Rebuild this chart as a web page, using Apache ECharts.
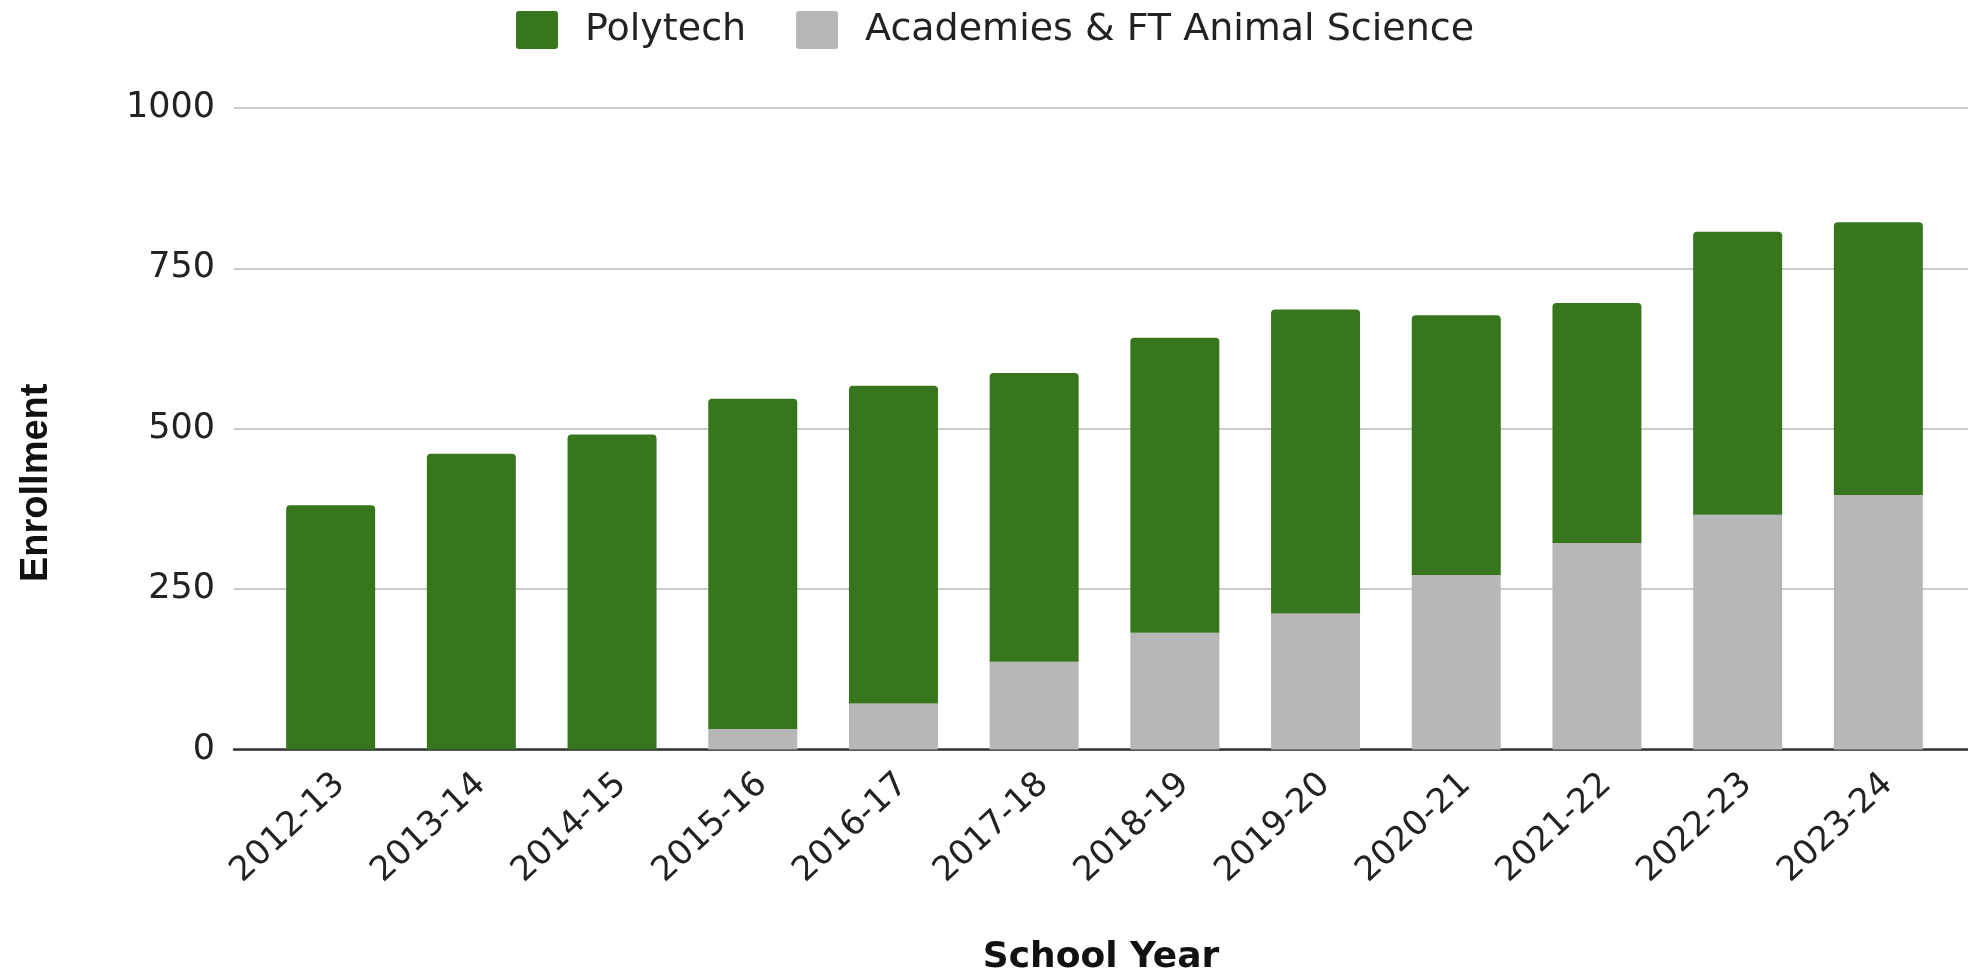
<!DOCTYPE html>
<html>
<head>
<meta charset="utf-8">
<script src="https://cdn.jsdelivr.net/npm/echarts@6/dist/echarts.min.js"></script>
<style>
html,body{margin:0;padding:0;background:#fff;}
#chart{width:1968px;height:975px;}
</style>
</head>
<body>
<div id="chart"></div>
<script>
const categories = ['2012-13','2013-14','2014-15','2015-16','2016-17','2017-18','2018-19','2019-20','2020-21','2021-22','2022-23','2023-24'];
const polytech = [381,461,491,515,495,450,460,474,405,374,441,425];
const academies = [0,0,0,32,72,137,182,212,272,322,366,397];
const yTicks = [0,250,500,750,1000];

const chart = echarts.init(document.getElementById('chart'), null, {renderer:'canvas'});
const TOP = 108, BOTTOM = 225.4;
const tickFont = 'DejaVu Sans';
const gridBase = {top: TOP, bottom: BOTTOM, containLabel: false, outerBoundsMode: 'none'};
const option = {
  backgroundColor: '#ffffff',
  animation: false,
  legend: {
    data: ['Polytech', 'Academies & FT Animal Science'],
    left: 511, top: 6,
    itemWidth: 42, itemHeight: 38, itemGap: 50,
    icon: 'path://M3,0 H39 Q42,0 42,3 V35 Q42,38 39,38 H3 Q0,38 0,35 V3 Q0,0 3,0 Z',
    textStyle: {fontFamily: tickFont, fontSize: 38, color: '#222', padding: [0,0,0,22]}
  },
  grid: [
    Object.assign({left: 234, right: 0}, gridBase),
    Object.assign({left: 260.3, right: 19.3}, gridBase),
    Object.assign({left: 269.8, right: 9.8}, gridBase)
  ],
  xAxis: [
    {type:'category', gridIndex:0, data: categories,
     axisLine:{show:true, lineStyle:{color:'#333', width:2.5}},
     axisTick:{show:false}, axisLabel:{show:false}, splitLine:{show:false},
     name:'School Year', nameLocation:'middle', nameGap:190,
     nameTextStyle:{fontFamily:tickFont, fontWeight:'bold', fontSize:36, color:'#111'}},
    {type:'category', gridIndex:1, data: categories,
     axisLine:{show:false}, axisTick:{show:false}, axisLabel:{show:false}},
    {type:'category', gridIndex:2, data: categories,
     axisLine:{show:false}, axisTick:{show:false},
     axisLabel:{show:true, rotate:43, margin:30, interval:0,
       fontFamily:tickFont, fontSize:34, color:'#222'}}
  ],
  yAxis: [
    {type:'value', gridIndex:0, min:0, max:1000, interval:250,
     axisLine:{show:false}, axisTick:{show:false},
     axisLabel:{fontFamily:tickFont, fontSize:35, color:'#222', margin:19,
       formatter: v => yTicks.includes(v) ? String(v) : ''},
     splitLine:{show:true, lineStyle:{color:'#cccccc', width:2}},
     name:'Enrollment', nameLocation:'middle', nameGap:178,
     nameTextStyle:{fontFamily:'Liberation Sans', fontWeight:'bold', fontSize:38, color:'#111', padding:[0,108,0,0]}},
    {type:'value', gridIndex:1, min:0, max:1000, interval:250, show:false},
    {type:'value', gridIndex:2, min:0, max:1000, interval:250, show:false}
  ],
  series: [
    {name:'Academies & FT Animal Science', type:'bar', stack:'total', xAxisIndex:1, yAxisIndex:1,
     data: academies, barWidth: 89, itemStyle:{color:'#b7b7b7'}},
    {name:'Polytech', type:'bar', stack:'total', xAxisIndex:1, yAxisIndex:1,
     data: polytech, barWidth: 89, itemStyle:{color:'#38761d', borderRadius:[4,4,0,0]}}
  ]
};
chart.setOption(option);
</script>
</body>
</html>
